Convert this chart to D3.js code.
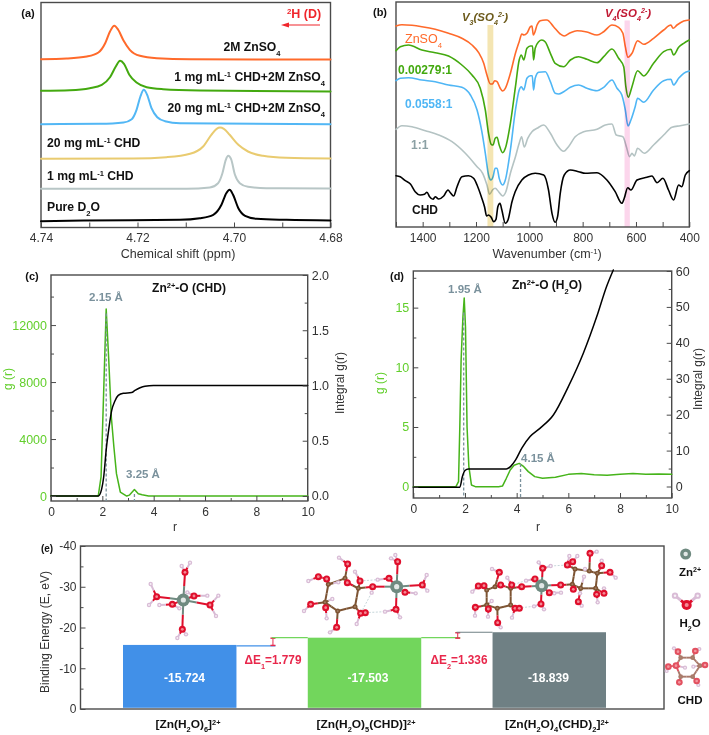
<!DOCTYPE html>
<html><head><meta charset="utf-8">
<script src="https://cdn.jsdelivr.net/npm/d3@7/dist/d3.min.js"></script>
<style>
html,body{margin:0;padding:0;background:#fff}
svg{display:block}
text{font-family:"Liberation Sans",Arial,sans-serif}
</style></head><body><svg id="c" width="709" height="735"></svg>
<script>
// ---------- panel (a): [ppm, intensity]
const nmrPeaks = [
 {name:"2M ZnSO4",color:"#ff6a2b",pts:[[4.74,168.3],[4.7347,169],[4.7305,171],[4.7281,175],[4.7267,184.3],[4.7257,196],[4.7248,201.7],[4.724,197.7],[4.7229,187],[4.7216,177.7],[4.7195,171.7],[4.716,169.3],[4.7091,168.3],[4.68,168]]},
 {name:"1 mg CHD+ZnSO4",color:"#43a90f",pts:[[4.74,136.7],[4.734,137.3],[4.7299,139.3],[4.7274,142.7],[4.7257,150.3],[4.7245,161],[4.7236,166.7],[4.7228,163.7],[4.7217,152.7],[4.7202,145],[4.7181,140.3],[4.7147,138.3],[4.7071,137],[4.68,136]]},
 {name:"20 mg CHD+ZnSO4",color:"#52b7f5",pts:[[4.74,103.3],[4.7278,103.7],[4.7229,105],[4.7212,108.3],[4.7202,117.7],[4.7194,131],[4.7187,137.7],[4.718,132.7],[4.7171,119.3],[4.7159,110.3],[4.7143,106.3],[4.7112,104.3],[4.68,103.3]]},
 {name:"20 mg CHD",color:"#e9cb70",pts:[[4.74,68.7],[4.7209,69],[4.714,70.3],[4.7091,73.7],[4.7064,81],[4.7047,92.7],[4.7036,98.7],[4.7029,100],[4.7021,98.7],[4.7009,92.7],[4.6991,82.7],[4.6971,76],[4.694,71.7],[4.6892,69.7],[4.68,69]]},
 {name:"1 mg CHD",color:"#b8c6c6",pts:[[4.74,38.7],[4.7098,38.7],[4.705,40],[4.7033,44.3],[4.7024,54.3],[4.7017,67.7],[4.7012,71.7],[4.7006,68.3],[4.6998,52.7],[4.6988,44.3],[4.6971,40.7],[4.6933,39.3],[4.68,39]]},
 {name:"Pure D2O",color:"#000",pts:[[4.74,6.3],[4.7312,7],[4.7112,7.7],[4.7071,9.3],[4.7043,12.7],[4.7026,22.7],[4.7016,34.3],[4.7009,37.7],[4.7002,32.7],[4.6991,19.3],[4.6977,11.7],[4.6953,8.7],[4.6891,7.7],[4.68,7]]}
];
// ---------- panel (b): [wavenumber, offset transmittance]
const irZnSO4 = [[1500,201],[1478,202.3],[1440,201.7],[1403,200.3],[1353,197.7],[1303,193.7],[1253,188.7],[1215,182],[1190,174.3],[1171,163.7],[1159,152],[1146,143],[1138,143],[1130,146.3],[1121,145.3],[1109,138.7],[1100,136],[1090,138.7],[1071,153.7],[1052,173.7],[1038,185.3],[1028,193],[1020,192],[1009,193.7],[996,200.3],[990,201],[985,192],[980,194.3],[971,202],[959,206.3],[940,207],[934,207],[909,200.3],[884,193],[869,191],[846,194.3],[821,196.3],[784,195],[746,192],[721,195.3],[690,202],[665,199.7],[649,193.7],[640,180.3],[630,169.7],[615,173.7],[594,186.3],[571,182.7],[534,188.7],[496,197],[469,202],[461,198.7],[446,202],[421,206],[400,207]];
const irR00279 = [[1500,176.3],[1484,180.3],[1453,182],[1403,177],[1353,174.3],[1303,171],[1253,162],[1215,152],[1184,138.7],[1165,117],[1153,93.7],[1143,82.7],[1136,82],[1128,88.7],[1121,89.7],[1113,82],[1100,74.3],[1090,78.7],[1071,103.7],[1052,140.3],[1038,167],[1030,172],[1021,167],[1009,178.7],[996,181],[988,181],[984,167],[978,178.7],[965,185.3],[953,187],[940,185],[921,173.7],[903,163.7],[871,160.3],[846,167],[815,170.3],[784,167.7],[746,164.3],[721,170.3],[690,178],[665,168.7],[646,160.3],[638,140.3],[629,129.7],[615,140.3],[594,156.3],[571,151],[534,163.7],[496,175.3],[469,177.7],[459,172],[440,179.7],[421,183.7],[400,187]];
const irR0558 = [[1500,146.3],[1484,148.7],[1453,149.3],[1403,147],[1353,145.3],[1303,142],[1253,139.7],[1221,132],[1196,117],[1178,95.3],[1165,73.7],[1153,52],[1144,47],[1136,50.3],[1128,58.7],[1121,58.7],[1113,48.7],[1100,42],[1090,47],[1071,77],[1052,117],[1038,137],[1030,140.3],[1021,137],[1009,148.7],[996,151.3],[989,151.3],[984,137],[978,148.7],[965,154.7],[940,155.3],[921,145.3],[903,133.7],[890,133],[871,135.3],[846,139.7],[815,142],[784,138.7],[746,136.3],[721,139.7],[690,147],[671,138.7],[653,132],[640,117],[630,101],[619,107],[603,120.3],[594,128.7],[571,124.7],[534,137],[496,146.3],[469,147.7],[459,142],[440,148.7],[421,153.7],[400,156]];
const irR1 = [[1500,97.7],[1478,101.3],[1440,100.3],[1390,96.3],[1340,92],[1290,85.3],[1240,73.7],[1196,60.3],[1175,53.7],[1159,42],[1149,32.7],[1138,37],[1128,38.7],[1115,35.3],[1100,31],[1088,35.3],[1071,53.7],[1052,70.3],[1038,83.7],[1029,90.3],[1019,80],[1006,88.7],[990,95.3],[971,98.7],[946,102],[921,93.7],[896,82],[871,75.7],[853,80.3],[828,90.3],[796,95.3],[746,97.7],[715,102],[690,103],[674,92],[649,90.3],[636,80.3],[624,70.3],[615,73.7],[606,71],[594,78.7],[569,73.7],[534,82],[496,92],[465,99.7],[434,101.3],[400,103]];
const irCHD = [[1500,51.3],[1484,50.3],[1465,46.3],[1446,43],[1428,35.3],[1409,32],[1393,32.7],[1384,34.7],[1374,30.3],[1361,27.7],[1353,30.3],[1340,28],[1321,31],[1305,37],[1296,34.3],[1284,31],[1271,40.3],[1253,50.3],[1228,51.3],[1209,48.7],[1196,42],[1180,30.3],[1168,20.3],[1160,11],[1153,12],[1143,9.7],[1134,5.3],[1125,7.7],[1118,20.3],[1110,23.7],[1103,17],[1090,3.7],[1080,7],[1065,25.3],[1053,35.3],[1028,47],[1003,52],[978,53.7],[946,52],[928,37],[915,13.7],[903,4.7],[894,10.3],[884,33.7],[869,52],[846,57],[815,55.3],[790,53.7],[746,54.3],[709,47],[678,35.3],[653,23.7],[644,28.7],[631,39.3],[619,37],[596,47],[559,49.7],[540,51],[521,44.3],[499,48.7],[478,37],[459,27],[440,42],[428,40.3],[415,52],[400,56.3]];
const irBands = [{lo:1135,hi:1157,color:"#f4e5b2",top:202},{lo:623,hi:643,color:"#fcd6ec",top:206.5}];
// ---------- panel (c)
const rdfCgr = [[0,0],[1.84,0],[1.95,1340],[2.05,7200],[2.15,13120],[2.25,9540],[2.35,5550],[2.45,3440],[2.55,1570],[2.7,280],[2.95,0],[3.05,60],[3.25,450],[3.4,160],[3.55,90],[3.8,0],[10,0]];
const rdfCint = [[0,0],[1.84,0],[1.97,0.06],[2.05,0.167],[2.16,0.44],[2.26,0.62],[2.36,0.77],[2.49,0.86],[2.62,0.91],[2.82,0.93],[3.14,0.936],[3.27,0.955],[3.47,0.98],[3.66,0.994],[3.99,1],[10,1]];
// ---------- panel (d)
const rdfDgr = [[0,0],[1.65,0],[1.75,0.42],[1.8,5],[1.85,10.6],[1.92,14.2],[1.97,15.8],[2.02,13.4],[2.08,5],[2.15,1.7],[2.25,0.14],[2.4,0],[3.3,0],[3.45,0.05],[3.6,0.7],[3.75,1.4],[3.9,1.8],[4.1,1.95],[4.25,1.73],[4.45,1.26],[4.7,0.84],[5,0.7],[5.5,0.78],[6,1.03],[6.5,1.1],[7,1],[7.5,0.95],[8,1.03],[8.5,1.1],[9,1.03],[9.5,1.06],[10,1.03]];
const rdfDint = [[0,-0.2],[1.8,-0.2],[1.9,2.8],[2,4.45],[2.13,4.9],[3.6,4.9],[3.77,5.6],[3.96,7.4],[4.2,10.7],[4.52,13.9],[4.9,16.2],[5.42,19.9],[6,27.8],[6.58,37.1],[7.1,47.3],[7.48,55.7],[7.74,60.3]];
// ---------- panel (e)
const complexes = ["[Zn(H~2~O)~6~]^2+^","[Zn(H~2~O)~5~(CHD)]^2+^","[Zn(H~2~O)~4~(CHD)~2~]^2+^"];
const bindingEnergy = [-15.724,-17.503,-18.839];
const barColors = ["#4190e8","#72d65c","#6f8084"];
const deltaLabels = ["ΔE~1~=1.779","ΔE~2~=1.336"];
// molecule sketches: [element, x, y] in the local units of each sketch
const mol1Atoms=[["Zn",160,150],["O",165,67],["O",80,140],["O",240,165],["O",157,238],["O",127,163],["O",192,138],["H",155,48],["H",180,38],["H",62,102],["H",57,165],["H",265,137],["H",258,198],["H",142,264],["H",168,253],["H",88,165],["H",232,137],["H",148,175],["H",172,127]];
const mol1Bonds=[[0,1],[0,2],[0,3],[0,4],[0,5],[0,6],[1,7],[1,8],[2,9],[2,10],[3,11],[3,12],[4,13],[4,14],[5,15],[5,17],[6,16],[6,18]];
const mol2Atoms=[["Zn",320,125],["O",323,50],["O",397,120],["O",345,142],["O",318,193],["O",297,100],["O",248,125],
["H",303,40],["H",316,30],["H",410,90],["H",412,137],["H",377,145],["H",330,133],["H",285,200],["H",330,217],["H",263,104],
["C",205,130],["C",165,100],["C",115,118],["C",105,172],["C",143,198],["C",195,185],["O",172,113],
["O",173,57],["H",147,38],["O",110,102],["O",85,95],["H",55,108],["O",62,178],["H",42,198],["O",107,188],["H",110,220],["O",140,247],["H",120,262],["O",212,205],["O",226,203],["H",200,237],["O",210,108],["H",195,80],["H",245,143],["H",145,112],["H",127,162]];
const mol2Bonds=[[0,1],[0,2],[0,3],[0,4],[0,5],[0,6],[1,7],[1,8],[2,9],[2,10],[3,11],[3,12],[4,13],[4,14],[5,15],[6,16],[16,22],[22,17],[17,18],[18,19],[19,20],[20,21],[21,16],[17,23],[23,24],[18,25],[25,26],[26,27],[19,28],[28,29],[19,30],[30,31],[20,32],[32,33],[21,34],[34,35],[34,36],[16,37],[37,38],[19,41],[18,40]];
const mol2HB=[[39,34],[35,13],[37,15],[18,19]];
const mol3Atoms=[["Zn",245,122],["O",248,70],["O",225,102],["O",185,125],["O",243,177],["O",268,143],["O",302,120],
["H",236,52],["H",272,63],["H",198,107],["H",222,184],["H",252,193],["H",303,143],["H",283,145],
["C",152,130],["O",122,120],["C",80,135],["C",80,180],["C",112,190],["C",152,180],["C",105,125],
["O",118,82],["H",96,72],["O",155,120],["H",142,98],["O",72,122],["O",55,123],["H",37,140],["O",46,187],["H",45,212],["O",85,192],["H",84,215],["H",95,168],["O",165,190],["O",178,190],["H",156,218],["O",113,233],["H",122,247],
["C",337,118],["C",345,72],["C",388,78],["C",412,85],["C",407,130],["C",362,130],
["O",322,60],["O",338,50],["H",328,33],["H",352,33],["O",390,25],["H",410,20],["O",450,82],["H",467,98],["O",425,62],["H",425,47],["O",432,145],["O",410,148],["H",413,172],["H",432,130],["O",355,170],["H",365,182],["O",340,133],["H",372,95],["H",360,145],["H",375,72]];
const mol3Bonds=[[0,1],[0,2],[0,3],[0,4],[0,5],[0,6],[1,7],[1,8],[2,9],[4,10],[4,11],[5,12],[5,13],[3,14],[14,15],[15,20],[20,16],[16,17],[17,18],[18,19],[19,14],[20,21],[21,22],[14,23],[23,24],[16,25],[25,26],[26,27],[17,28],[28,29],[17,30],[30,31],[17,32],[19,33],[33,34],[33,35],[18,36],[36,37],[6,38],[38,39],[39,40],[40,41],[41,42],[42,43],[43,38],[39,44],[44,45],[44,46],[45,47],[40,48],[48,49],[41,50],[50,51],[41,52],[52,53],[42,54],[42,55],[55,56],[54,57],[43,58],[58,59],[38,60],[43,62],[43,61]];
const mol3HB=[[8,44],[10,33],[9,23],[22,21]];
const legendHoh=[["O",110,180],["H",75,152],["H",143,152]];
const legendHohBonds=[[0,1],[0,2]];
const legendChd=[["C",92,338],["C",128,338],["C",150,362],["C",128,395],["C",92,395],["O",78,362],["O",84,320],["H",72,310],["O",136,318],["H",148,312],["O",165,360],["H",130,365],["O",55,365],["H",50,378],["O",88,412],["C",88,410],["O",140,408],["H",145,420],["H",105,368]];
const legendChdBonds=[[0,1],[1,2],[2,3],[3,4],[4,5],[5,0],[0,6],[6,7],[1,8],[8,9],[2,10],[2,11],[5,12],[12,13],[4,14],[3,16],[16,17],[5,18]];

// ---------- helpers
const svg=d3.select("#c");
const DARK="#333", FRAME="#4a4a4a", GREEN="#46b41a", GLAB="#62cf2c", SLATE="#7a919c";
function rich(g,x,y,str,o={}){
  const t=g.append("text").attr("x",x).attr("y",y).attr("text-anchor",o.anchor||"middle")
    .attr("font-size",o.size||12).attr("font-weight",o.weight||"bold").attr("fill",o.fill||"#111")
    .attr("font-style",o.style||null);
  if(o.rotate!==undefined) t.attr("transform",`rotate(${o.rotate} ${x} ${y})`);
  if(o.length) t.attr("textLength",o.length).attr("lengthAdjust","spacingAndGlyphs");
  str.split(/(~[^~]*~|\^[^^]*\^)/).filter(s=>s).forEach(s=>{
    if(s[0]==="~") t.append("tspan").attr("baseline-shift","sub").attr("font-size","62%").text(s.slice(1,-1));
    else if(s[0]==="^") t.append("tspan").attr("baseline-shift","super").attr("font-size","62%").text(s.slice(1,-1));
    else t.append("tspan").text(s);
  });
  return t;
}
function frame(x,y){
  svg.append("rect").attr("x",x.range()[0]).attr("y",y.range()[1])
    .attr("width",x.range()[1]-x.range()[0]).attr("height",y.range()[0]-y.range()[1])
    .attr("fill","none").attr("stroke",FRAME).attr("stroke-width",1.4);
}
function axis(gen,scale,orient,tx,ty,major,minor,o={}){
  const g=svg.append("g").attr("transform",`translate(${tx},${ty})`);
  const a=gen(scale).tickValues(minor).tickSize(-(o.minorLen||3)).tickFormat("");
  g.call(a); g.select(".domain").remove(); g.selectAll("line").attr("stroke",FRAME);
  const h=svg.append("g").attr("transform",`translate(${tx},${ty})`);
  h.call(gen(scale).tickValues(major).tickSize(-(o.len||5)).tickPadding(o.pad||9+(o.len||5)).tickFormat(o.fmt||(d=>String(d))));
  h.select(".domain").remove(); h.selectAll("line").attr("stroke",FRAME);
  h.selectAll("text").attr("font-size",o.size||12).attr("fill",o.fill||DARK)
   .style("font-family",'"Liberation Sans",Arial,sans-serif');
}
const lineOf=(x,y,curve)=>d3.line().x(d=>x(d[0])).y(d=>y(d[1])).curve(curve);
function path(data,gen,color,w){
  svg.append("path").datum(data).attr("d",gen).attr("fill","none").attr("stroke",color)
    .attr("stroke-width",w).attr("stroke-linejoin","round").attr("stroke-linecap","round");
}

// ---------- (a)
{
  const x=d3.scaleLinear().domain([4.74,4.68]).range([41,330.5]);
  const y=d3.scaleLinear().domain([0,225]).range([227.5,2.5]);
  frame(x,y);
  const gen=lineOf(x,y,d3.curveMonotoneX);
  nmrPeaks.forEach(s=>path(s.pts,gen,s.color,2));
  axis(d3.axisBottom,x,"b",0,227.5,[4.74,4.72,4.70,4.68],[4.73,4.71,4.69],{fmt:d3.format(".2f"),pad:6,minorLen:5});
  rich(svg,178,258,"Chemical shift (ppm)",{size:12.5,weight:"normal",fill:DARK});
  rich(svg,28,17,"(a)",{size:11});
  rich(svg,304,18,"^2^H (D)",{size:12.5,fill:"#f0262c"});
  svg.append("line").attr("x1",320).attr("x2",284).attr("y1",25).attr("y2",25).attr("stroke","#f0262c").attr("stroke-width",1.2);
  svg.append("path").attr("d","M281 25L289 22.5L289 27.5Z").attr("fill","#f0262c");
  rich(svg,252,51,"2M ZnSO~4~",{size:12.2});
  rich(svg,325,81,"1 mg mL^-1^ CHD+2M ZnSO~4~",{anchor:"end",size:12.2});
  rich(svg,325,112,"20 mg mL^-1^ CHD+2M ZnSO~4~",{anchor:"end",size:12.2});
  rich(svg,47,147,"20 mg mL^-1^ CHD",{anchor:"start",size:12.2});
  rich(svg,47,180,"1 mg mL^-1^ CHD",{anchor:"start",size:12.2});
  rich(svg,47,211,"Pure D~2~O",{anchor:"start",size:12.2});
}
// ---------- (b)
{
  const x=d3.scaleLinear().domain([1500,400]).range([396,689.3]);
  const y=d3.scaleLinear().domain([0,225]).range([227,2]);
  frame(x,y);
  const gen=lineOf(x,y,d3.curveMonotoneX);
  path(irZnSO4,gen,"#ff6a2b",1.6);
  path(irR00279,gen,"#43a90f",1.6);
  path(irR0558,gen,"#4fb6f5",1.6);
  path(irR1,gen,"#b4c3c3",1.6);
  path(irCHD,gen,"#000",1.6);
  irBands.forEach(b=>{
    svg.append("rect").attr("x",x(b.hi)).attr("width",x(b.lo)-x(b.hi))
      .attr("y",y(b.top)).attr("height",y(0)-y(b.top)-0.5)
      .attr("fill",b.color).style("mix-blend-mode","multiply");
  });
  axis(d3.axisBottom,x,"b",0,227,[1400,1200,1000,800,600,400],[1500,1300,1100,900,700,500],{pad:6,minorLen:5});
  rich(svg,547,258,"Wavenumber (cm^-1^)",{size:12.5,weight:"normal",fill:DARK});
  rich(svg,380,16,"(b)",{size:11});
  rich(svg,485,21,"V~3~(SO~4~^2-^)",{size:11.5,style:"italic",fill:"#6d5b1c"});
  rich(svg,628,17,"V~4~(SO~4~^2-^)",{size:11.5,style:"italic",fill:"#c11a34"});
  rich(svg,405,43,"ZnSO~4~",{anchor:"start",size:12.5,weight:"normal",fill:"#ff6a2b"});
  rich(svg,398,74,"0.00279:1",{anchor:"start",size:12,fill:"#43a90f"});
  rich(svg,405,108,"0.0558:1",{anchor:"start",size:12,fill:"#4fb6f5"});
  rich(svg,411,149,"1:1",{anchor:"start",size:12,fill:"#8ba0a4"});
  rich(svg,412,214,"CHD",{anchor:"start",size:12,fill:"#111"});
}
// ---------- (c)
{
  const x=d3.scaleLinear().domain([0,10]).range([51,307.7]);
  const yL=d3.scaleLinear().domain([-350,15515]).range([501,275]);
  const yR=d3.scaleLinear().domain([-0.0455,2]).range([501,275]);
  frame(x,yL);
  path(rdfCgr,lineOf(x,yL,d3.curveLinear),GREEN,1.5);
  [[2.15,13120],[3.25,450]].forEach(p=>svg.append("line").attr("x1",x(p[0])).attr("x2",x(p[0]))
     .attr("y1",yL(p[1]-300)).attr("y2",yL.range()[0]).attr("stroke",SLATE).attr("stroke-width",1.3).attr("stroke-dasharray","3 2"));
  path(rdfCint,lineOf(x,yR,d3.curveMonotoneX),"#000",1.5);
  axis(d3.axisBottom,x,"b",0,501,[0,2,4,6,8,10],[1,3,5,7,9],{pad:6});
  axis(d3.axisLeft,yL,"l",51,0,[0,4000,8000,12000],[2000,6000,10000,14000],{fill:GLAB,pad:4,size:12.5});
  axis(d3.axisRight,yR,"r",307.7,0,[0,0.5,1,1.5,2],[0.25,0.75,1.25,1.75],{fmt:d3.format(".1f"),pad:4,size:12.5});
  rich(svg,175,531,"r",{size:12,weight:"normal",fill:DARK});
  rich(svg,12,379,"g (r)",{size:12,weight:"normal",fill:GLAB,rotate:-90});
  rich(svg,344,383,"Integral g(r)",{size:12,weight:"normal",fill:DARK,rotate:-90});
  rich(svg,32,280,"(c)",{size:11});
  rich(svg,189,292,"Zn^2+^-O (CHD)",{size:12});
  rich(svg,106,301,"2.15 Å",{size:11.5,fill:SLATE});
  rich(svg,143,478,"3.25 Å",{size:11.5,fill:SLATE});
}
// ---------- (d)
{
  const x=d3.scaleLinear().domain([0,10]).range([413.3,671.7]);
  const yL=d3.scaleLinear().domain([-0.95,18.07]).range([498,271]);
  const yR=d3.scaleLinear().domain([-3.2,60]).range([498,271]);
  frame(x,yL);
  path(rdfDgr,lineOf(x,yL,d3.curveLinear),GREEN,1.5);
  [[1.95,14.6],[4.15,1.9]].forEach(p=>svg.append("line").attr("x1",x(p[0])).attr("x2",x(p[0]))
     .attr("y1",yL(p[1])).attr("y2",yL.range()[0]).attr("stroke",SLATE).attr("stroke-width",1.3).attr("stroke-dasharray","3 2"));
  path(rdfDint,lineOf(x,yR,d3.curveMonotoneX),"#000",1.5);
  axis(d3.axisBottom,x,"b",0,498,[0,2,4,6,8,10],[1,3,5,7,9],{pad:6});
  axis(d3.axisLeft,yL,"l",413.3,0,[0,5,10,15],[2.5,7.5,12.5,17.5],{fill:GLAB,pad:4,size:12.5});
  axis(d3.axisRight,yR,"r",671.7,0,[0,10,20,30,40,50,60],[5,15,25,35,45,55],{pad:4,size:12.5});
  rich(svg,538,531,"r",{size:12,weight:"normal",fill:DARK});
  rich(svg,384,383,"g (r)",{size:12,weight:"normal",fill:GLAB,rotate:-90});
  rich(svg,702,379,"Integral g(r)",{size:12,weight:"normal",fill:DARK,rotate:-90});
  rich(svg,397,280,"(d)",{size:11});
  rich(svg,547,289,"Zn^2+^-O (H~2~O)",{size:12});
  rich(svg,465,293,"1.95 Å",{size:11.5,fill:SLATE});
  rich(svg,538,462,"4.15 Å",{size:11.5,fill:SLATE});
}
// ---------- (e)
{
  const x=d3.scaleLinear().domain([0,1]).range([80.5,664]);
  const y=d3.scaleLinear().domain([0,-40]).range([709,546]);
  const band=d3.scaleBand().domain(complexes).range([123,606]).paddingInner(0.386).paddingOuter(0);
  frame(x,y);
  svg.append("g").selectAll("rect").data(bindingEnergy).join("rect")
    .attr("x",(d,i)=>band(complexes[i])).attr("width",band.bandwidth())
    .attr("y",d=>y(d)).attr("height",d=>y(0)-y(d)-1.2).attr("fill",(d,i)=>barColors[i]);
  const valueX=[184.6,368,548.5];
  bindingEnergy.forEach((v,i)=>{
    const x0=band(complexes[i]), x1=x0+band.bandwidth();
    if(i<2) svg.append("line").attr("x1",x1).attr("x2",x1+39).attr("y1",y(v)+(i==0?1:0)).attr("y2",y(v)+(i==0?1:0)).attr("stroke",barColors[i]).attr("stroke-width",1.2);
    if(i>0) svg.append("line").attr("x1",x0-36).attr("x2",x0).attr("y1",y(v)).attr("y2",y(v)).attr("stroke",barColors[i]).attr("stroke-width",1.2);
    if(i<2){
      const xm=x1+36.5, a=y(bindingEnergy[i+1])+0.5, b=y(v)+0.5;
      svg.append("line").attr("x1",xm).attr("x2",xm).attr("y1",a).attr("y2",b).attr("stroke","#e8274b").attr("stroke-width",1);
      [a,b].forEach(q=>svg.append("line").attr("x1",xm-2.5).attr("x2",xm+2.5).attr("y1",q).attr("y2",q).attr("stroke","#e8274b").attr("stroke-width",1.4));
      rich(svg,[273,459][i],664,deltaLabels[i],{size:12.5,fill:"#e8274b",length:57});
    }
    rich(svg,valueX[i],682,String(v),{size:12.5,fill:"#fff",length:41});
  });
  const labelX=[188,366,557], labelW=[65,99,104];
  complexes.forEach((c,i)=>rich(svg,labelX[i],728,c,{size:10.5,fill:"#111",length:labelW[i]}));
  axis(d3.axisLeft,y,"l",80.5,0,[0,-10,-20,-30,-40],[-5,-15,-25,-35],{pad:4,size:12});
  rich(svg,49,632,"Binding Energy (E, eV)",{size:12,weight:"normal",fill:DARK,rotate:-90});
  rich(svg,47,552,"(e)",{size:10});
  rich(svg,690,576,"Zn^2+^",{size:11.5});
  rich(svg,690,627,"H~2~O",{size:11.5});
  rich(svg,690,704,"CHD",{size:11.5});
}
// ---------- molecule sketches
const atomColor={Zn:"#6f8a80",O:"#df0f2c",H:"#d9bcd6",C:"#7d5433"};
const atomR={Zn:6.5,O:3.5,H:2.2,C:2.5};
function molecule(atoms,bonds,hb,x0,y0,k,scale,pale){
  const sx=d3.scaleLinear().domain([0,1]).range([x0,x0+k]), sy=d3.scaleLinear().domain([0,1]).range([y0,y0+k]);
  const g=svg.append("g"), s=scale||1;
  (hb||[]).forEach(b=>g.append("line").attr("x1",sx(atoms[b[0]][1])).attr("y1",sy(atoms[b[0]][2]))
     .attr("x2",sx(atoms[b[1]][1])).attr("y2",sy(atoms[b[1]][2])).attr("stroke","#b7ccd0").attr("stroke-width",.8).attr("stroke-dasharray","2 1.5"));
  const col=e=>pale&&e!=="H"?(e==="O"?"#e2505f":"#a9796a"):atomColor[e];
  bonds.forEach(b=>{
    const A=atoms[b[0]],B=atoms[b[1]],mx=(A[1]+B[1])/2,my=(A[2]+B[2])/2;
    [[A,mx,my],[B,mx,my]].forEach(p=>g.append("line").attr("x1",sx(p[0][1])).attr("y1",sy(p[0][2]))
       .attr("x2",sx(p[1])).attr("y2",sy(p[2])).attr("stroke",col(p[0][0])).attr("stroke-width",2*s));
  });
  const order={H:0,C:1,O:2,Zn:3};
  atoms.slice().sort((a,b)=>order[a[0]]-order[b[0]]).forEach(a=>{
    const r=atomR[a[0]]*s;
    g.append("circle").attr("cx",sx(a[1])).attr("cy",sy(a[2])).attr("r",r).attr("fill",col(a[0]));
    g.append("circle").attr("cx",sx(a[1])).attr("cy",sy(a[2])).attr("r",r*0.4)
      .attr("fill",a[0]==="O"?"#f7a9b0":a[0]==="C"?"#a98a70":"#fff").attr("opacity",.8);
  });
}
molecule(mol1Atoms,mol1Bonds,null,130,550,1/3);
molecule(mol2Atoms,mol2Bonds,mol2HB,290,545,1/3);
molecule(mol3Atoms,mol3Bonds,mol3HB,460,545,1/3);
molecule([["Zn",107,27]],[],null,650,545,1/3,.85);
molecule(legendHoh,legendHohBonds,null,650,545,1/3,1.45);
molecule(legendChd,legendChdBonds,null,650,545,1/3,.95,true);
</script></body></html>
